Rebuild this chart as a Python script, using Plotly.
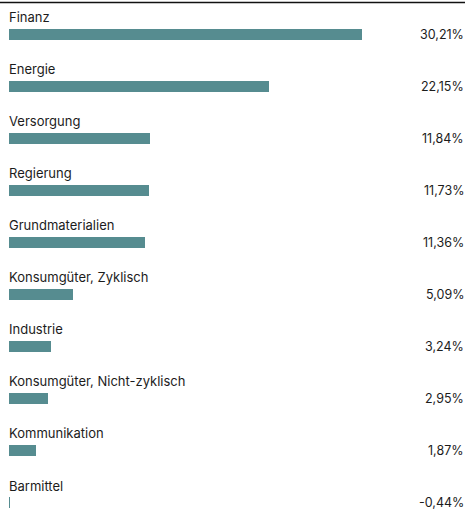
import plotly.graph_objects as go

categories = ["Finanz", "Energie", "Versorgung", "Regierung", "Grundmaterialien",
              "Konsumgüter, Zyklisch", "Industrie", "Konsumgüter, Nicht-zyklisch",
              "Kommunikation", "Barmittel"]
values = [30.21, 22.15, 11.84, 11.73, 11.36, 5.09, 3.24, 2.95, 1.87, -0.44]
value_labels = ["30,21%", "22,15%", "11,84%", "11,73%", "11,36%",
                "5,09%", "3,24%", "2,95%", "1,87%", "-0,44%"]

BAR = "#568c90"
TXT = "#1c1c1c"
FONT = "Inter, Liberation Sans, Arial, sans-serif"

idx = list(range(len(categories)))

# bars are drawn from the smallest value (axis minimum), minimum visible length ~1px
base_val = min(values)
px_per_unit = 11.52
min_len = 1.0 / px_per_unit
lengths = [max(v - base_val, min_len) for v in values]

x_min = base_val - 1.0 / px_per_unit
x_max = x_min + 457 / px_per_unit

fig = go.Figure()
fig.add_trace(go.Bar(
    x=lengths, y=idx, base=[base_val] * len(values), orientation="h", width=0.21,
    marker=dict(color=BAR, line=dict(width=0)),
    hoverinfo="skip",
))

ann = []
for i, (c, v) in enumerate(zip(categories, value_labels)):
    ann.append(dict(x=x_min, y=i, xref="x", yref="y", text=c, showarrow=False,
                    xanchor="left", yanchor="middle", yshift=17, xshift=-1,
                    font=dict(family=FONT, size=13, color=TXT)))
    ann.append(dict(x=1, y=i, xref="paper", yref="y", text=v, showarrow=False,
                    xanchor="right", yanchor="middle", xshift=1, yshift=0,
                    font=dict(family=FONT, size=12.5, color=TXT)))

fig.update_layout(
    width=465, height=513,
    margin=dict(l=8, r=0, t=0, b=0),
    paper_bgcolor="white", plot_bgcolor="white",
    showlegend=False,
    bargap=0,
    xaxis=dict(range=[x_min, x_max], visible=False, fixedrange=True),
    yaxis=dict(range=[9.202, -0.663], visible=False, fixedrange=True),
    annotations=ann,
    shapes=[dict(type="line", xref="paper", yref="paper", x0=-0.02, x1=1,
                 y0=1 - 2.5 / 513, y1=1 - 2.5 / 513,
                 line=dict(color="#111111", width=1.5))],
)

fig.write_html("out.html")
